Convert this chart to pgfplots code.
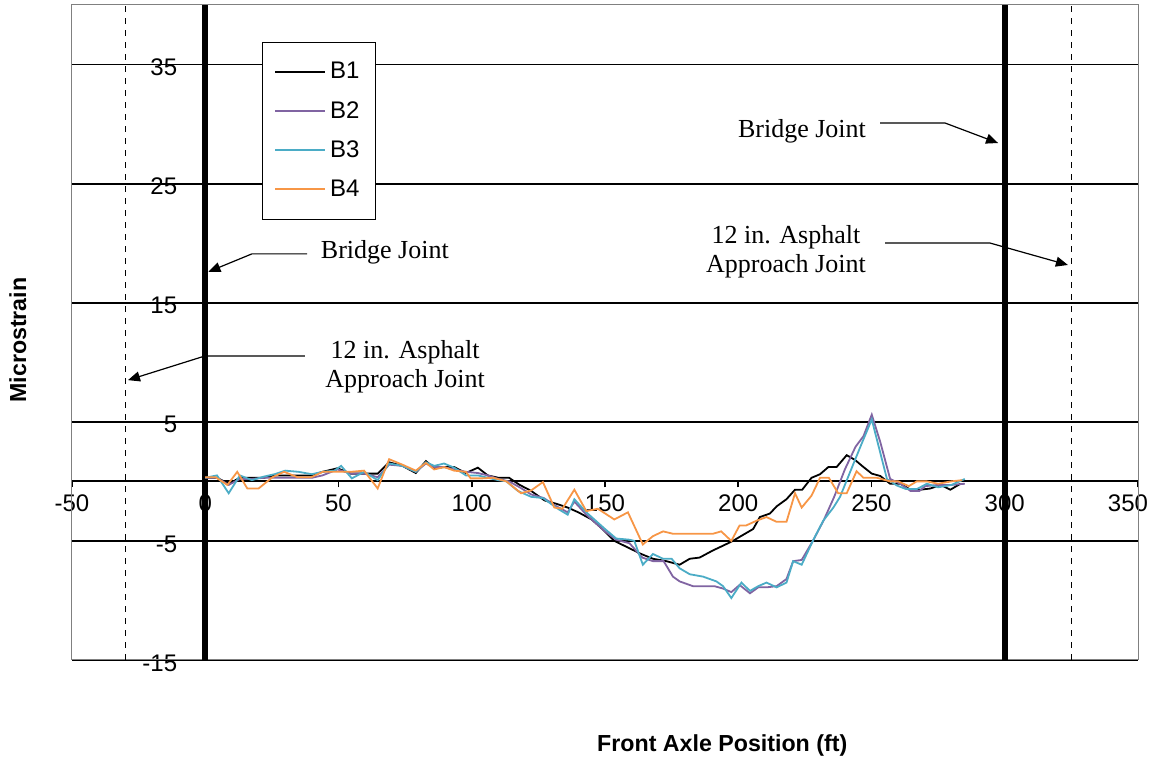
\documentclass[border=0pt]{standalone}
\usepackage{fontspec}
\setmainfont{Liberation Sans}
\newfontfamily\timesfont{Liberation Serif}
\usepackage{pgfplots}
\pgfplotsset{compat=1.18}
\usetikzlibrary{arrows.meta}
\definecolor{bpurple}{HTML}{8064A2}
\definecolor{bcyan}{HTML}{4BACC6}
\definecolor{borange}{HTML}{F79646}
\begin{document}
\begin{tikzpicture}
\begin{axis}[name=ax,
  scale only axis, width=533pt, height=327.5pt,
  xmin=-50, xmax=350, ymin=-15, ymax=40,
  axis lines=middle, axis line style={-, black, line width=0.9pt},
  hide obscured x ticks=false, hide obscured y ticks=false,
  xtick={-50,0,...,300}, ytick={-15,-5,5,15,25,35},
  extra x ticks={350},
  extra x tick style={xticklabel style={xshift=-5pt}},
  tick align=outside, major tick length=3pt,
  tick style={black, line width=0.8pt},
  ymajorgrids, major grid style={black, line width=0.9pt},
  ticklabel style={font=\fontsize{12}{14}\selectfont},
  yticklabel style={xshift=-7.5pt, yshift=-1.5pt},
  /pgf/number format/assume math mode=true,
  clip=false,
  legend style={at={(0.178,0.9435)}, anchor=north west, draw=black, fill=white,
    font=\fontsize{12}{14}\selectfont, row sep=5.7pt, inner xsep=6pt, inner ysep=8pt},
  legend cell align=left,
  legend image code/.code={\draw[#1, line width=1pt] (0pt,0pt) -- (25pt,0pt);},
]
\draw[gray, line width=0.5pt] (rel axis cs:0,0) rectangle (rel axis cs:1,1);
\addplot[black, line width=3pt, forget plot] coordinates {(0,-15) (0,40)};
\addplot[black, line width=3pt, forget plot] coordinates {(300,-15) (300,40)};
\addplot[black, line width=0.6pt, dash pattern=on 3pt off 3pt, forget plot] coordinates {(-30,-15) (-30,40)};
\addplot[black, line width=0.6pt, dash pattern=on 3pt off 3pt, forget plot] coordinates {(325,-15) (325,40)};

\addplot[color=black, line width=0.9pt] coordinates {
(0,0.3) (4.4,0.3) (8.8,-0.2) (13,0.3) (17.5,0.3) (22,0.3) (26,0.5) (31,0.5) (35,0.5) (40,0.5) (44,0.8) (49.6,1.1) (54.6,0.65) (59.6,0.65) (64.7,0.65) (69,1.6) (74,1.3) (79,0.7) (82.8,1.7) (86,1.1) (89.6,1.2) (93.4,1.2) (97.8,0.7) (102.3,1.15) (106,0.5) (110,0.3) (114,0.3) (118,-0.3) (122.3,-0.8) (127.3,-1.6) (132,-1.9) (136,-2.2) (140,-2.6) (145,-3.2) (149,-4.0) (153.5,-5.0) (159,-5.6) (163.6,-6.1) (168,-6.5) (173,-6.7) (178,-7.0) (181.8,-6.5) (185.5,-6.4) (190.5,-5.8) (194.3,-5.4) (198,-5.0) (201,-4.6) (205.6,-4.0) (208.1,-3.0) (211.9,-2.7) (214.4,-2.1) (218.1,-1.5) (221.3,-0.7) (224,-0.7) (227.5,0.3) (230.7,0.6) (233.8,1.2) (236.9,1.2) (240.7,2.2) (243.8,1.8) (247,1.2) (250.1,0.65) (253.3,0.45) (257,-0.2) (260.8,-0.2) (264.6,-0.7) (268.4,-0.7) (272.1,-0.6) (275.9,-0.3) (279.6,-0.7) (283.4,-0.2)};
\addlegendentry{B1}
\addplot[color=bpurple, line width=0.9pt] coordinates {
(0,0.3) (4.4,0.3) (8.8,-0.3) (13,0.2) (17.5,0.2) (22,0.3) (26,0.3) (31,0.3) (35,0.3) (40,0.3) (44,0.5) (49.6,1.0) (54.6,0.65) (59.6,0.65) (64.7,0.35) (69,1.4) (74,1.3) (79,0.8) (82.8,1.5) (86,1.2) (89.6,1.2) (93.4,1.0) (97.8,0.8) (102.3,0.7) (106,0.5) (110,0.2) (114,0.0) (118,-0.5) (122.3,-1.1) (127,-1.4) (131,-2.0) (136,-2.6) (138.5,-1.7) (143,-2.8) (147,-3.6) (150,-4.2) (154.2,-4.9) (159.2,-5.2) (164,-6.4) (168,-6.7) (172,-6.7) (175.5,-8.0) (178,-8.4) (183,-8.8) (187,-8.8) (191,-8.8) (194.3,-9.0) (197.4,-9.3) (200.5,-8.7) (204.4,-9.4) (207.5,-8.9) (210.6,-8.9) (214.4,-8.8) (218.1,-8.2) (220.6,-6.7) (223.8,-6.6) (228,-5.0) (232,-3.3) (236,-1.3) (240,1.0) (244,2.9) (247,3.8) (250.1,5.6) (253.3,3.3) (257,0.2) (260.8,-0.2) (264.6,-0.8) (268,-0.8) (270.2,-0.4) (275,-0.3) (280,-0.3) (285,-0.2)};
\addlegendentry{B2}
\addplot[color=bcyan, line width=0.9pt] coordinates {
(0,0.3) (4.4,0.5) (8.8,-1.0) (13,0.5) (17.5,0.1) (22,0.4) (26,0.6) (30,0.9) (35,0.8) (40,0.6) (44,0.8) (48.5,0.9) (51,1.3) (55,0.25) (59.6,0.8) (64.7,0.1) (69,1.5) (74,1.3) (79,0.8) (82.8,1.6) (86,1.3) (89.6,1.5) (93.4,1.15) (97.8,0.5) (102.3,0.5) (106,0.3) (110,0.1) (113,0.0) (117.3,-0.8) (122.3,-1.3) (126.7,-1.4) (132.3,-2.3) (136,-2.8) (138.5,-1.5) (143,-2.6) (147,-3.4) (150,-4.0) (154.2,-4.8) (159.2,-4.9) (161,-5.0) (164.2,-7.0) (168,-6.1) (171.8,-6.5) (175,-6.5) (178,-7.3) (181.8,-7.8) (186.8,-8.0) (191.8,-8.4) (194.3,-8.8) (197.4,-9.8) (201.2,-8.5) (204.4,-9.2) (207.5,-8.8) (210.6,-8.5) (214.4,-8.9) (218.1,-8.5) (220.6,-6.7) (223.8,-7.0) (228.2,-4.9) (231.9,-3.3) (235.7,-2.2) (238.2,-1.3) (242,0.8) (246,3.0) (250.1,5.2) (255.8,0.2) (259.5,-0.35) (263,-0.65) (267,-0.65) (270.8,-0.2) (275,-0.5) (280,-0.3) (285,0.2)};
\addlegendentry{B3}
\addplot[color=borange, line width=0.9pt] coordinates {
(0,0.34) (3.9,0.34) (8.3,-0.3) (12,0.8) (15.8,-0.6) (20,-0.6) (25.2,0.34) (29.6,0.8) (34.7,0.34) (39.7,0.34) (44.1,0.8) (48.5,0.8) (54.6,0.8) (59.6,0.9) (64.7,-0.6) (69,1.86) (74,1.4) (79,0.9) (82.8,1.55) (85.9,1.0) (89.6,1.2) (93.4,0.9) (97.8,0.8) (99.6,0.25) (104,0.25) (108,0.3) (113,0.0) (118.5,-1.0) (122.3,-0.76) (126.7,-0.06) (131,-2.2) (134,-2.3) (138.5,-0.7) (143,-2.5) (147.3,-2.3) (153.5,-3.2) (158.6,-2.6) (164.2,-5.3) (168,-4.6) (171.8,-4.2) (175.5,-4.4) (180,-4.4) (185,-4.4) (190.5,-4.4) (193.6,-4.2) (197.4,-5.0) (200.5,-3.7) (203,-3.7) (206.9,-3.3) (210.6,-3.0) (214.4,-3.4) (218.1,-3.4) (221.3,-1.0) (223.8,-2.2) (227.5,-1.2) (230.7,0.3) (234,0.3) (237.5,-1.0) (240.7,-1.0) (244.4,0.85) (247,0.3) (252,0.3) (257,0.0) (260,0.0) (264,-0.4) (267,0.0) (270.8,0.0) (275,-0.2) (280,0.0) (284,0.1)};
\addlegendentry{B4}

% annotations
\draw[black, line width=0.6pt, -{Triangle[length=6pt,width=5pt]}] (axis cs:38.2,19.1) -- (axis cs:17.5,19.1) -- (axis cs:1.2,17.6);
\node[font=\timesfont\fontsize{13}{15}\selectfont] at (axis cs:67.4,19.26) {Bridge Joint};
\draw[black, line width=0.6pt, -{Triangle[length=6pt,width=5pt]}] (axis cs:37.4,10.53) -- (axis cs:-0.1,10.53) -- (axis cs:-29,8.5);
\node[font=\timesfont\fontsize{13}{14.5}\selectfont, align=center] at (axis cs:75,9.65) {12 in. Asphalt\\Approach Joint};
\draw[black, line width=0.6pt, -{Triangle[length=6pt,width=5pt]}] (axis cs:253.2,30.09) -- (axis cs:277.6,30.09) -- (axis cs:297.5,28.41);
\node[font=\timesfont\fontsize{13}{15}\selectfont] at (axis cs:223.9,29.42) {Bridge Joint};
\draw[black, line width=0.6pt, -{Triangle[length=6pt,width=5pt]}] (axis cs:255.1,20.01) -- (axis cs:294.5,20.01) -- (axis cs:323.7,18.17);
\node[font=\timesfont\fontsize{13}{14.5}\selectfont, align=center] at (axis cs:217.9,19.3) {12 in. Asphalt\\Approach Joint};

\node[font=\bfseries\fontsize{11.6}{14}\selectfont] at (rel axis cs:0.61,-0.13) {Front Axle Position (ft)};
\node[font=\bfseries\fontsize{11.6}{14}\selectfont, rotate=90] at (rel axis cs:-0.0507,0.4885) {Microstrain};
\end{axis}
\pgfresetboundingbox
\path ([shift={(-36pt,-51.5pt)}]ax.south west) rectangle ([shift={(6.5pt,2.5pt)}]ax.north east);
\end{tikzpicture}
\end{document}
